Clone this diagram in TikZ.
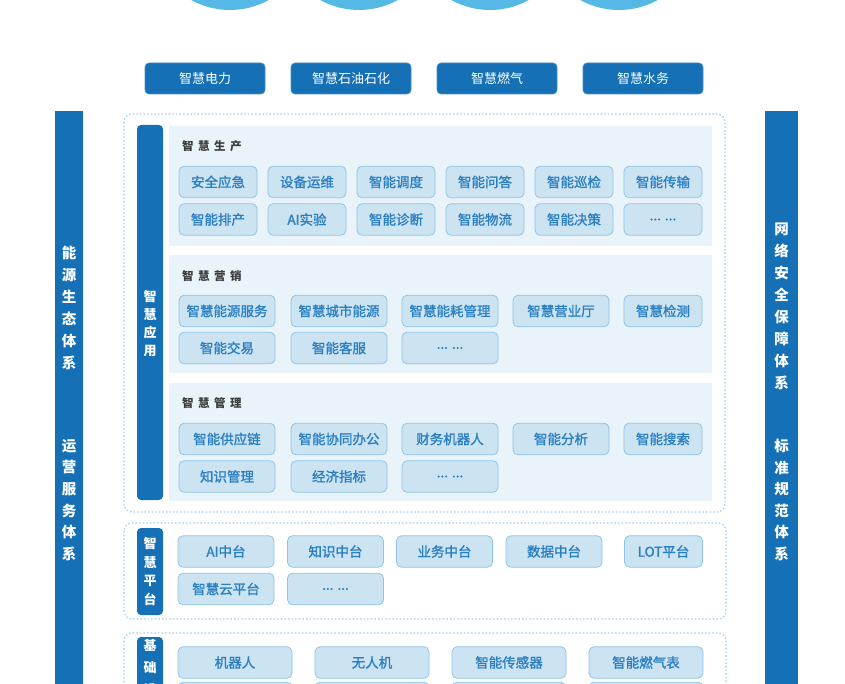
\documentclass[tikz,border=0pt]{standalone}
\usepackage{fontspec}
\setmainfont{Noto Sans CJK SC}
\newfontfamily\itemfont{Noto Sans CJK SC}[FakeBold=1.3]
\definecolor{darkblue}{HTML}{1570B6}
\definecolor{skyblue}{HTML}{56B9E5}
\definecolor{panelbg}{HTML}{E8F3FA}
\definecolor{itemfill}{HTML}{CCE3F2}
\definecolor{itemline}{HTML}{8FC5E8}
\definecolor{itemtext}{HTML}{2A7FC2}
\definecolor{dotline}{HTML}{A3D0EC}
\definecolor{titlegray}{HTML}{3C3C3C}

\begin{document}
\begin{tikzpicture}[x=1pt, y=-1pt,
    item/.style={draw=itemline, line width=0.8pt, fill=itemfill, rounded corners=5pt,
        minimum height=31.5pt, inner sep=0pt, text=itemtext,
        font=\fontsize{13.5}{13.5}\itemfont},
    topbtn/.style={draw=darkblue!80!white, line width=0.6pt, fill=darkblue, rounded corners=4pt,
        minimum width=120pt, minimum height=31pt, inner sep=0pt, text=white,
        font=\fontsize{13}{13}\selectfont},
    dotbox/.style={draw=dotline, line width=1.2pt, dash pattern=on 1.6pt off 2pt, rounded corners=8pt},
    bartext/.style={text=white, align=center, inner sep=0pt},
    paneltitle/.style={anchor=west, inner sep=0pt, text=titlegray,
        font=\fontsize{11.5}{11.5}\selectfont\bfseries}]
        \useasboundingbox (0,0) rectangle (845,684);
        \fill[white] (0,0) rectangle (845,684);
        \clip (0,0) rectangle (845,684);

        % circles cut by the top edge
        \fill[skyblue] (230,-70) circle (80pt);
        \fill[skyblue] (359,-70) circle (80pt);
        \fill[skyblue] (490,-70) circle (80pt);
        \fill[skyblue] (619,-70) circle (80pt);

        % industries
        \node[topbtn] (T1) at (205,78.5) {智慧电力};
        \node[topbtn] (T2) at (351,78.5) {智慧石油石化};
        \node[topbtn] (T3) at (497,78.5) {智慧燃气};
        \node[topbtn] (T4) at (643,78.5) {智慧水务};

        % side bars
        \fill[darkblue] (55,111) rectangle (83,700);
        \fill[darkblue] (765,111) rectangle (798,700);
        \node[bartext, font=\fontsize{14.5}{22.1}\selectfont\bfseries] (L1) at (69,308) {能\\源\\生\\态\\体\\系};
        \node[bartext, font=\fontsize{14.5}{21.6}\selectfont\bfseries] (L2) at (69,500) {运\\营\\服\\务\\体\\系};
        \node[bartext, font=\fontsize{14.5}{21.9}\selectfont\bfseries] (R1) at (781.5,306.5) {网\\络\\安\\全\\保\\障\\体\\系};
        \node[bartext, font=\fontsize{14.5}{21.6}\selectfont\bfseries] (R2) at (781.5,500) {标\\准\\规\\范\\体\\系};

        % smart applications
        \draw[dotbox] (124,114) rectangle (725,512);
        \fill[darkblue, rounded corners=4pt] (137,125) rectangle (163,500);
        \node[bartext, font=\fontsize{13}{17.7}\selectfont\bfseries] (A0) at (150,323.5) {智\\慧\\应\\用};
        \fill[panelbg] (169,126) rectangle (712,246);
        \fill[panelbg] (169,255) rectangle (712,373);
        \fill[panelbg] (169,383) rectangle (712,501);

        \node[paneltitle] (S0) at (182,146) {智\hspace{4.5pt}慧\hspace{4.5pt}生\hspace{4.5pt}产};
        \node[item, minimum width=78pt] (S1) at (218,182) {安全应急};
        \node[item, minimum width=78pt] (S2) at (307,182) {设备运维};
        \node[item, minimum width=78pt] (S3) at (396,182) {智能调度};
        \node[item, minimum width=78pt] (S4) at (485,182) {智能问答};
        \node[item, minimum width=78pt] (S5) at (574,182) {智能巡检};
        \node[item, minimum width=78pt] (S6) at (663,182) {智能传输};
        \node[item, minimum width=78pt] (S7) at (218,219.5) {智能排产};
        \node[item, minimum width=78pt] (S8) at (307,219.5) {AI实验};
        \node[item, minimum width=78pt] (S9) at (396,219.5) {智能诊断};
        \node[item, minimum width=78pt] (S10) at (485,219.5) {智能物流};
        \node[item, minimum width=78pt] (S11) at (574,219.5) {智能决策};
        \node[item, minimum width=78pt] (S12) at (663,219.5) {... ...};

        \node[paneltitle] (M0) at (182,276) {智\hspace{4.5pt}慧\hspace{4.5pt}营\hspace{4.5pt}销};
        \node[item, minimum width=96pt] (M1) at (227,311) {智慧能源服务};
        \node[item, minimum width=96pt] (M2) at (339,311) {智慧城市能源};
        \node[item, minimum width=96pt] (M3) at (450,311) {智慧能耗管理};
        \node[item, minimum width=96pt] (M4) at (561,311) {智慧营业厅};
        \node[item, minimum width=78pt] (M5) at (663,311) {智慧检测};
        \node[item, minimum width=96pt] (M6) at (227,348) {智能交易};
        \node[item, minimum width=96pt] (M7) at (339,348) {智能客服};
        \node[item, minimum width=96pt] (M8) at (450,348) {... ...};

        \node[paneltitle] (G0) at (182,403) {智\hspace{4.5pt}慧\hspace{4.5pt}管\hspace{4.5pt}理};
        \node[item, minimum width=96pt] (G1) at (227,439) {智能供应链};
        \node[item, minimum width=96pt] (G2) at (339,439) {智能协同办公};
        \node[item, minimum width=96pt] (G3) at (450,439) {财务机器人};
        \node[item, minimum width=96pt] (G4) at (561,439) {智能分析};
        \node[item, minimum width=78pt] (G5) at (663,439) {智能搜索};
        \node[item, minimum width=96pt] (G6) at (227,476.5) {知识管理};
        \node[item, minimum width=96pt] (G7) at (339,476.5) {经济指标};
        \node[item, minimum width=96pt] (G8) at (450,476.5) {... ...};

        % smart platform
        \draw[dotbox] (124,523) rectangle (726,619);
        \fill[darkblue, rounded corners=4pt] (137,528) rectangle (163,615);
        \node[bartext, font=\fontsize{13}{18.5}\selectfont\bfseries] (P0) at (150,571.5) {智\\慧\\平\\台};
        \node[item, minimum width=96pt] (P1) at (226,551.5) {AI中台};
        \node[item, minimum width=96pt] (P2) at (335.5,551.5) {知识中台};
        \node[item, minimum width=96pt] (P3) at (444.5,551.5) {业务中台};
        \node[item, minimum width=96pt] (P4) at (554,551.5) {数据中台};
        \node[item, minimum width=78pt] (P5) at (663.5,551.5) {LOT平台};
        \node[item, minimum width=96pt] (P6) at (226,589) {智慧云平台};
        \node[item, minimum width=96pt] (P7) at (335.5,589) {... ...};

        % base layer, cut by the bottom edge
        \draw[dotbox] (124,633) rectangle (726,760);
        \fill[darkblue, rounded corners=4pt] (137,637) rectangle (163,755);
        \node[bartext, font=\fontsize{13}{22}\selectfont\bfseries] (B0) at (150,679) {基\\础\\设\\施};
        \node[item, minimum width=114pt] (B1) at (235,662.5) {机器人};
        \node[item, minimum width=114pt] (B2) at (372,662.5) {无人机};
        \node[item, minimum width=114pt] (B3) at (509,662.5) {智能传感器};
        \node[item, minimum width=114pt] (B4) at (646,662.5) {智能燃气表};
        \node[item, minimum width=114pt] (B5) at (235,698) {};
        \node[item, minimum width=114pt] (B6) at (372,698) {};
        \node[item, minimum width=114pt] (B7) at (509,698) {};
        \node[item, minimum width=114pt] (B8) at (646,698) {};

    \end{tikzpicture}
\end{document}
